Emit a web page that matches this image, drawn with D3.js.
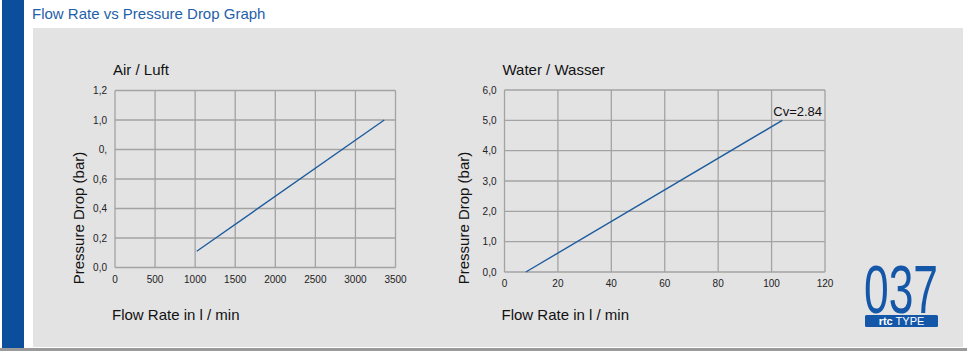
<!DOCTYPE html>
<html>
<head>
<meta charset="utf-8">
<script src="https://cdn.jsdelivr.net/npm/d3@7"></script>
<style>
  html, body { margin: 0; padding: 0; background: #fff; }
  svg { display: block; font-family: "Liberation Sans", Arial, sans-serif; }
</style>
</head>
<body>
<div id="chart"></div>
<script>
/* Flow rate vs pressure drop — two small line charts */

const airFlow = [1020, 3360];
const airDrop = [0.11, 1.0];
const airXTicks = [0, 500, 1000, 1500, 2000, 2500, 3000, 3500];
const airYTicks = [0, 0.2, 0.4, 0.6, 0.8, 1.0, 1.2];
const airYLabels = ["0,0", "0,2", "0,4", "0,6", "0,", "1,0", "1,2"];

const waterFlow = [8, 104];
const waterDrop = [0, 5.0];
const waterXTicks = [0, 20, 40, 60, 80, 100, 120];
const waterYTicks = [0, 1, 2, 3, 4, 5, 6];
const waterYLabels = ["0,0", "1,0", "2,0", "3,0", "4,0", "5,0", "6,0"];

const W = 967, H = 352;
const BLUE = "#0b4f9c", LINE = "#1d5c9e", GRID = "#a3a3a3";

const svg = d3.select("#chart").append("svg").attr("width", W).attr("height", H);

/* frame: blue side bar, grey panel, bottom rule */
svg.append("rect").attr("x", 33).attr("y", 28).attr("width", 930).attr("height", 319).attr("fill", "#e3e3e4");
svg.append("rect").attr("x", 2).attr("y", 0).attr("width", 22).attr("height", 348).attr("fill", BLUE);
svg.append("rect").attr("x", 0).attr("y", 348).attr("width", W).attr("height", 3).attr("fill", "#9a9a9a");
svg.append("text").attr("x", 32).attr("y", 19).attr("font-size", 15).attr("fill", "#1f60aa")
  .text("Flow Rate vs Pressure Drop Graph");

function drawChart(cfg) {
  const x = d3.scaleLinear().domain(cfg.xDomain).range([cfg.x0, cfg.x1]);
  const y = d3.scaleLinear().domain(cfg.yDomain).range([cfg.y1, cfg.y0]);
  const g = svg.append("g");

  g.append("g").selectAll("line").data(cfg.xTicks).join("line")
    .attr("x1", d => x(d)).attr("x2", d => x(d)).attr("y1", cfg.y0).attr("y2", cfg.y1)
    .attr("stroke", GRID).attr("stroke-width", 1.3);
  g.append("g").selectAll("line").data(cfg.yTicks).join("line")
    .attr("x1", cfg.x0).attr("x2", cfg.x1).attr("y1", d => y(d)).attr("y2", d => y(d))
    .attr("stroke", GRID).attr("stroke-width", 1.3);

  g.append("g").selectAll("text").data(cfg.xTicks).join("text")
    .attr("x", d => x(d)).attr("y", cfg.y1 + 15).attr("text-anchor", "middle")
    .attr("font-size", 10).attr("fill", "#222").text(d => d);
  g.append("g").selectAll("text").data(cfg.yTicks).join("text")
    .attr("x", cfg.x0 - 8).attr("y", d => y(d) + 3.5).attr("text-anchor", "end")
    .attr("font-size", 10).attr("fill", "#222").text((d, i) => cfg.yLabels[i]);

  const line = d3.line().x((d, i) => x(cfg.flow[i])).y(d => y(d));
  g.append("path").attr("d", line(cfg.drop)).attr("fill", "none")
    .attr("stroke", LINE).attr("stroke-width", 1.4);

  g.append("text").attr("x", cfg.x0 - 2).attr("y", 75).attr("font-size", 15).attr("fill", "#111")
    .text(cfg.title);
  g.append("text").attr("transform", `translate(${cfg.yLabelX},218) rotate(-90)`)
    .attr("text-anchor", "middle").attr("font-size", 15).attr("fill", "#111")
    .text("Pressure Drop (bar)");
  g.append("text").attr("x", cfg.x0 - 3).attr("y", 320).attr("font-size", 15).attr("fill", "#111")
    .text("Flow Rate in l / min");
  return { x, y, g };
}

drawChart({
  title: "Air / Luft", flow: airFlow, drop: airDrop,
  xDomain: [0, 3500], yDomain: [0, 1.2], xTicks: airXTicks, yTicks: airYTicks, yLabels: airYLabels,
  x0: 115, x1: 395.5, y0: 90.5, y1: 267.5, yLabelX: 84
});

const water = drawChart({
  title: "Water / Wasser", flow: waterFlow, drop: waterDrop,
  xDomain: [0, 120], yDomain: [0, 6], xTicks: waterXTicks, yTicks: waterYTicks, yLabels: waterYLabels,
  x0: 504.5, x1: 825, y0: 90, y1: 272, yLabelX: 469
});
water.g.append("text")
  .attr("x", water.x(waterFlow[1]) - 9).attr("y", water.y(waterDrop[1]) - 4)
  .attr("font-size", 13).attr("fill", "#111").text("Cv=2.84");

/* type badge */
svg.append("text").attr("x", 864).attr("y", 313).attr("font-size", 68).attr("fill", "#1457a8")
  .attr("textLength", 74).attr("lengthAdjust", "spacingAndGlyphs").text("037");
svg.append("rect").attr("x", 865).attr("y", 315).attr("width", 73).attr("height", 12).attr("rx", 1.5).attr("fill", "#1457a8");
svg.append("text").attr("x", 901.5).attr("y", 325).attr("text-anchor", "middle")
  .attr("font-size", 11).attr("fill", "#fff")
  .html('<tspan font-weight="bold">rtc</tspan> TYPE');
</script>
</body>
</html>
